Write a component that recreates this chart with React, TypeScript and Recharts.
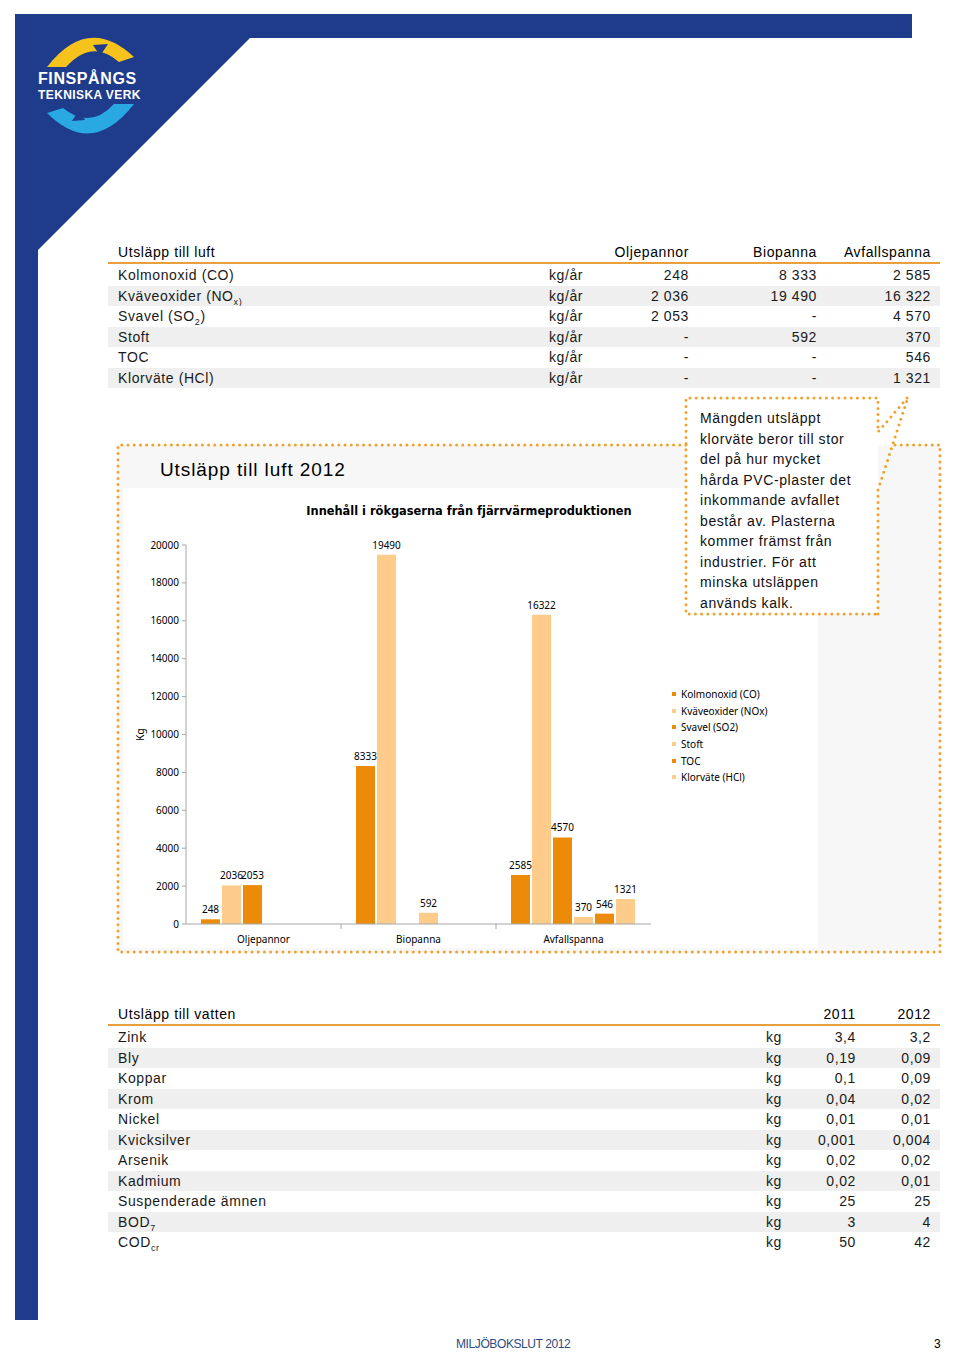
import React from "react";
import { BarChart, Bar, XAxis, YAxis, Legend, LabelList, Label } from "recharts";

// --- chart data (Utsläpp till luft 2012) ---
const categories = ["Oljepannor", "Biopanna", "Avfallspanna"];
const kolmonoxid = [248, 8333, 2585];
const kvaveoxider = [2036, 19490, 16322];
const svavel = [2053, null, 4570];
const stoft = [null, 592, 370];
const toc = [null, null, 546];
const klorvate = [null, null, 1321];
const yTicks = [0, 2000, 4000, 6000, 8000, 10000, 12000, 14000, 16000, 18000, 20000];

// --- table data ---
const airHeader = ["Oljepannor", "Biopanna", "Avfallspanna"];
const airLabels: React.ReactNode[] = [
  "Kolmonoxid (CO)",
  <>Kväveoxider (NO<sub style={{ fontSize: 9 }}>x)</sub></>,
  <>Svavel (SO<sub style={{ fontSize: 9 }}>2</sub>)</>,
  "Stoft",
  "TOC",
  "Klorväte (HCl)",
];
const airOlje = ["248", "2 036", "2 053", "-", "-", "-"];
const airBio = ["8 333", "19 490", "-", "592", "-", "-"];
const airAvfall = ["2 585", "16 322", "4 570", "370", "546", "1 321"];

const waterHeader = ["2011", "2012"];
const waterLabels: React.ReactNode[] = [
  "Zink", "Bly", "Koppar", "Krom", "Nickel", "Kvicksilver", "Arsenik", "Kadmium",
  "Suspenderade ämnen",
  <>BOD<sub style={{ fontSize: 9 }}>7</sub></>,
  <>COD<sub style={{ fontSize: 9 }}>cr</sub></>,
];
const water2011 = ["3,4", "0,19", "0,1", "0,04", "0,01", "0,001", "0,02", "0,02", "25", "3", "50"];
const water2012 = ["3,2", "0,09", "0,09", "0,02", "0,01", "0,004", "0,02", "0,01", "25", "4", "42"];

const DARK = "#EC8B0A";
const LIGHT = "#FDCB8A";
const BLUE = "#1F3B8C";
const DOTS = "#F0A22E";
const AXIS = "#A6A6A6";

const series = [
  { key: "co", name: "Kolmonoxid (CO)", color: DARK, values: kolmonoxid },
  { key: "nox", name: "Kväveoxider (NOx)", color: LIGHT, values: kvaveoxider },
  { key: "so2", name: "Svavel (SO2)", color: DARK, values: svavel },
  { key: "stoft", name: "Stoft", color: LIGHT, values: stoft },
  { key: "toc", name: "TOC", color: DARK, values: toc },
  { key: "hcl", name: "Klorväte (HCl)", color: LIGHT, values: klorvate },
];

const data = categories.map((name, i) => {
  const row: Record<string, string | number | null> = { name };
  series.forEach((s) => (row[s.key] = s.values[i]));
  return row;
});

const CHART_W = 695;
const CHART_H = 460;
const MARGIN = { top: 57, right: 167, bottom: 0, left: 0 };
const YAXIS_W = 63;
const XAXIS_H = 24;
const CHART_FONT = '"Noto Sans", "DejaVu Sans", sans-serif';

function CategoryTick(props: any) {
  const { x, y, payload, index } = props;
  const half = (CHART_W - MARGIN.left - MARGIN.right - YAXIS_W) / categories.length / 2;
  return (
    <g>
      {index > 0 && <line x1={x - half} x2={x - half} y1={y} y2={y + 5} stroke={AXIS} />}
      <text x={x} y={y} dy={19} textAnchor="middle" fontSize={10} fill="#000" fontFamily={CHART_FONT}>
        {payload.value}
      </text>
    </g>
  );
}

const legendOrder = (item: any) => series.findIndex((s) => s.name === item.value);

const renderLegend = (props: any) => {
  const items = [...(props.payload || [])].sort((a: any, b: any) => legendOrder(a) - legendOrder(b));
  return (
    <div style={{ fontFamily: CHART_FONT, fontSize: 10, color: "#000" }}>
      {items.map((p: any) => (
        <div key={p.value} style={{ display: "flex", alignItems: "center", height: 16.6 }}>
          <span style={{ width: 4, height: 4, background: p.color, marginRight: 5, display: "inline-block" }} />
          {p.value}
        </div>
      ))}
    </div>
  );
};

function EmissionChart() {
  return (
    <BarChart
      width={CHART_W}
      height={CHART_H}
      data={data}
      margin={MARGIN}
      barCategoryGap={15}
      barGap={2}
      style={{ background: "#fff" }}
    >
      <XAxis
        dataKey="name"
        height={XAXIS_H}
        tickSize={0}
        tickMargin={0}
        tickLine={false}
        axisLine={{ stroke: AXIS }}
        tick={<CategoryTick />}
        interval={0}
      />
      <YAxis
        width={YAXIS_W}
        domain={[0, 20000]}
        ticks={yTicks}
        interval={0}
        tickSize={4}
        tickMargin={3}
        tickLine={{ stroke: AXIS }}
        axisLine={{ stroke: AXIS }}
        tick={{ fontSize: 10, fill: "#000", fontFamily: CHART_FONT }}
      >
        <Label
          content={({ viewBox }: any) => {
            const cx = viewBox.x + 18;
            const cy = viewBox.y + viewBox.height / 2;
            return (
              <text
                x={cx}
                y={cy}
                transform={`rotate(-90 ${cx} ${cy})`}
                textAnchor="middle"
                dominantBaseline="middle"
                fontSize={10}
                fontFamily={CHART_FONT}
                fill="#000"
              >
                Kg
              </text>
            );
          }}
        />
      </YAxis>
      <Legend
        layout="vertical"
        align="center"
        verticalAlign="middle"
        itemSorter={legendOrder}
        content={renderLegend}
        wrapperStyle={{ left: 549, top: 198, width: 140 }}
      />
      {series.map((s) => (
        <Bar key={s.key} dataKey={s.key} name={s.name} fill={s.color} isAnimationActive={false}>
          <LabelList
            dataKey={s.key}
            position="top"
            offset={6}
            fontSize={10}
            fill="#000"
            fontFamily={CHART_FONT}
          />
        </Bar>
      ))}
    </BarChart>
  );
}

const ROW_H = 20.5;
const TABLE_FONT = '"Liberation Sans", Arial, sans-serif';

function DataTable({
  top,
  title,
  header,
  headerRights,
  labels,
  unit,
  unitLeft,
  columns,
}: {
  top: number;
  title: string;
  header: string[];
  headerRights: number[];
  labels: React.ReactNode[];
  unit: string;
  unitLeft: number;
  columns: string[][];
}) {
  const cell = (content: React.ReactNode, right: number, key: string) => (
    <span key={key} style={{ position: "absolute", right: 940 - right, top: 0 }}>
      {content}
    </span>
  );
  return (
    <div
      style={{
        position: "absolute",
        left: 108,
        top,
        width: 832,
        fontFamily: TABLE_FONT,
        fontSize: 14,
        letterSpacing: 0.6,
        color: "#1a1a1a",
      }}
    >
      <div style={{ position: "relative", height: 20, lineHeight: "20px", color: "#000" }}>
        <span style={{ position: "absolute", left: 10 }}>{title}</span>
        {header.map((h, i) => cell(h, headerRights[i], "h" + i))}
      </div>
      <div style={{ height: 2, background: "#E9A03C" }} />
      <div style={{ height: 1 }} />
      {labels.map((label, r) => (
        <div
          key={r}
          style={{
            position: "relative",
            height: ROW_H,
            lineHeight: ROW_H + "px",
            background: r % 2 === 1 ? "#EFEFEF" : "#FFFFFF",
          }}
        >
          <span style={{ position: "absolute", left: 10 }}>{label}</span>
          <span style={{ position: "absolute", left: unitLeft - 108 }}>{unit}</span>
          {columns.map((col, c) => cell(col[r], headerRights[c], "c" + c))}
        </div>
      ))}
    </div>
  );
}

function Logo() {
  return (
    <svg width={960} height={260} style={{ position: "absolute", left: 0, top: 0 }}>
      <rect x={15} y={14} width={897} height={24} fill={BLUE} />
      <polygon points="15,14 250,14 250,38 38,250 15,260" fill={BLUE} />
      <path d="M47,67 Q88,14 134,57 L119,62 Q92,38 66,67 Z" fill="#F6C31C" />
      <path d="M93,45 L108,44 L100,56 Z" fill={BLUE} />
      <path d="M134,104 Q92,158 47,113 L63,108 Q90,130 114,104 Z" fill="#29A8E2" />
      <path d="M85,120 L72,121 L79,110 Z" fill={BLUE} />
      <text x={38} y={84} fill="#fff" fontFamily={TABLE_FONT} fontWeight="bold" fontSize={16} letterSpacing={0.6}>
        FINSPÅNGS
      </text>
      <text x={38} y={99} fill="#fff" fontFamily={TABLE_FONT} fontWeight="bold" fontSize={12} letterSpacing={0.4}>
        TEKNISKA VERK
      </text>
    </svg>
  );
}

export default function App() {
  return (
    <div
      style={{
        position: "absolute",
        left: 0,
        top: 0,
        width: 960,
        height: 1369,
        background: "#fff",
        overflow: "hidden",
        fontFamily: TABLE_FONT,
      }}
    >
      <Logo />
      <div style={{ position: "absolute", left: 15, top: 250, width: 23, height: 1070, background: BLUE }} />

      <DataTable
        top={242}
        title="Utsläpp till luft"
        header={airHeader}
        headerRights={[689, 817, 931]}
        labels={airLabels}
        unit="kg/år"
        unitLeft={549}
        columns={[airOlje, airBio, airAvfall]}
      />

      {/* chart box */}
      <div style={{ position: "absolute", left: 118, top: 445, width: 822, height: 507, background: "#F7F7F7" }} />
      <div
        style={{
          position: "absolute",
          left: 160,
          top: 458,
          fontSize: 19,
          letterSpacing: 0.9,
          color: "#000",
          lineHeight: "24px",
        }}
      >
        Utsläpp till luft 2012
      </div>
      <div style={{ position: "absolute", left: 123, top: 488 }}>
        <EmissionChart />
      </div>
      <div
        style={{
          position: "absolute",
          left: 469,
          top: 504,
          transform: "translateX(-50%)",
          whiteSpace: "nowrap",
          fontFamily: '"DejaVu Sans", sans-serif',
          fontWeight: "bold",
          fontSize: 11.4,
          color: "#000",
        }}
      >
        Innehåll i rökgaserna från fjärrvärmeproduktionen
      </div>

      {/* callout */}
      <div style={{ position: "absolute", left: 686, top: 398, width: 192, height: 216, background: "#fff" }} />
      <div
        style={{
          position: "absolute",
          left: 700,
          top: 408,
          fontSize: 14,
          lineHeight: "20.5px",
          letterSpacing: 0.6,
          color: "#111",
          whiteSpace: "nowrap",
        }}
      >
        Mängden utsläppt<br />
        klorväte beror till stor<br />
        del på hur mycket<br />
        hårda PVC-plaster det<br />
        inkommande avfallet<br />
        består av. Plasterna<br />
        kommer främst från<br />
        industrier. För att<br />
        minska utsläppen<br />
        används kalk.
      </div>
      <svg width={960} height={1000} style={{ position: "absolute", left: 0, top: 0, pointerEvents: "none" }}>
        <g fill="none" stroke={DOTS} strokeWidth={3} strokeLinecap="round" strokeDasharray="0 6.2">
          <path d="M686,445 L118,445 L118,952 L940,952 L940,445 L893,445" />
          <path d="M878,614 L878,490 L908,397 L878,432 L878,398 L686,398 L686,614 Z" />
        </g>
      </svg>

      <DataTable
        top={1004}
        title="Utsläpp till vatten"
        header={waterHeader}
        headerRights={[856, 931]}
        labels={waterLabels}
        unit="kg"
        unitLeft={766}
        columns={[water2011, water2012]}
      />

      <div
        style={{
          position: "absolute",
          left: 456,
          top: 1337,
          fontSize: 12,
          letterSpacing: -0.4,
          color: "#2B4C7E",
        }}
      >
        MILJÖBOKSLUT 2012
      </div>
      <div style={{ position: "absolute", left: 934, top: 1337, fontSize: 12, color: "#000" }}>3</div>
    </div>
  );
}
